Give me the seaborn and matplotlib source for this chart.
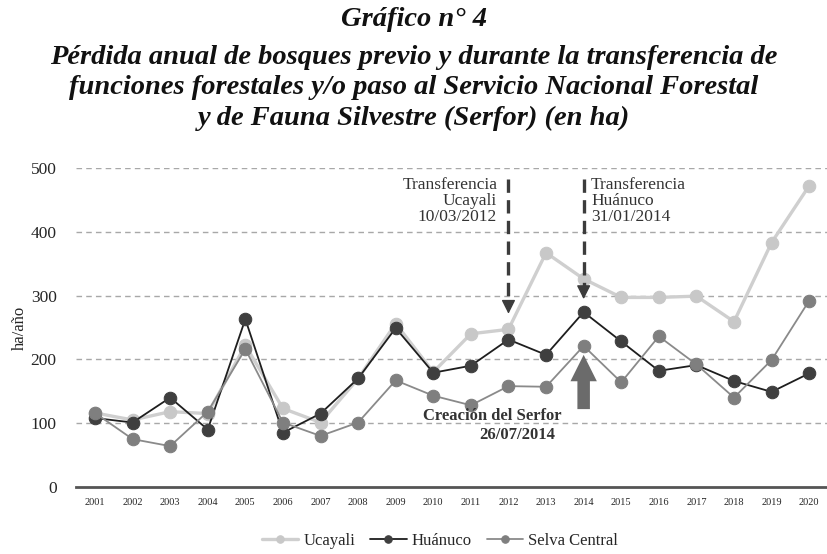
import matplotlib
matplotlib.use("Agg")
import matplotlib.pyplot as plt
import seaborn as sns
import pandas as pd

# datos (ha/año)
anios = [str(a) for a in range(2001, 2021)]
ucayali = [116, 105, 118, 115, 222, 123, 101, 170, 256, 180,
           240, 247, 367, 326, 297, 297, 299, 259, 383, 472]
huanuco = [108, 101, 140, 90, 263, 85, 115, 170, 249, 179,
           190, 231, 207, 274, 228, 182, 191, 166, 149, 178]
selva_central = [116, 75, 64, 118, 216, 101, 80, 101, 167, 143,
                 128, 158, 157, 221, 164, 236, 192, 140, 199, 292]

series = ["Ucayali", "Huánuco", "Selva Central"]
lineas = ["#cfcfcf", "#1e1e1e", "#8a8a8a"]
marcas = ["#c8c8c8", "#3f3f3f", "#7f7f7f"]
grosor = [2.4, 1.3, 1.3]

titulo = ["Gráfico n° 4",
          "Pérdida anual de bosques previo y durante la transferencia de",
          "funciones forestales y/o paso al Servicio Nacional Forestal",
          "y de Fauna Silvestre (Serfor) (en ha)"]

sns.set_theme(style="white")
plt.rcParams["font.family"] = ["Liberation Serif", "DejaVu Serif"]

df = pd.DataFrame({"anio": anios, "Ucayali": ucayali, "Huánuco": huanuco,
                   "Selva Central": selva_central})
pos = list(range(len(anios)))

fig = plt.figure(figsize=(8.28, 5.54), dpi=100)
ax = fig.add_axes([0.092, 0.121, 0.908, 0.576])

for nombre, lc, mc, lw in zip(series, lineas, marcas, grosor):
    sns.lineplot(x=pos, y=df[nombre], ax=ax, color=lc, linewidth=lw,
                 marker="o", markersize=9, markerfacecolor=mc,
                 markeredgecolor=mc, label=nombre, legend=False)

ax.set_xlim(-0.5, len(anios) - 0.5)
ax.set_ylim(0, 500)
ax.set_xticks(pos)
ax.set_xticklabels(anios, fontsize=7.5)
ax.set_yticks([0, 100, 200, 300, 400, 500])
ax.tick_params(axis="y", labelsize=12.5, length=0, pad=14)
ax.tick_params(axis="x", length=0, pad=8)
ax.set_xlabel("")
ax.set_ylabel("ha/año", fontsize=12, labelpad=2)
for y in [100, 200, 300, 400, 500]:
    ax.axhline(y, color="#a8a8a8", linestyle=(0, (4, 3)), linewidth=1, zorder=0)
for s in ["top", "right", "left"]:
    ax.spines[s].set_visible(False)
ax.spines["bottom"].set_color("#555555")
ax.spines["bottom"].set_linewidth(2)

# flechas de transferencia
i12 = anios.index("2012")
i14 = anios.index("2014")
ax.plot([i12, i12], [482, 285], color="#3c3c3c", linewidth=2.4, linestyle=(0, (4, 2.2)))
ax.annotate("", xy=(i12, 267), xytext=(i12, 287),
            arrowprops=dict(arrowstyle="-|>,head_width=0.35,head_length=0.7",
                            color="#3c3c3c", linewidth=1))
ax.plot([i14, i14], [482, 310], color="#3c3c3c", linewidth=2.4, linestyle=(0, (4, 2.2)))
ax.annotate("", xy=(i14, 290), xytext=(i14, 310),
            arrowprops=dict(arrowstyle="-|>,head_width=0.35,head_length=0.7",
                            color="#3c3c3c", linewidth=1))
ax.text(i12 - 0.3, 486, "Transferencia\nUcayali\n10/03/2012", ha="right", va="top",
        fontsize=12.5, color="#333333", linespacing=1.0)
ax.text(i14 + 0.2, 486, "Transferencia\nHuánuco\n31/01/2014", ha="left", va="top",
        fontsize=12.5, color="#333333", linespacing=1.0)

# creación del Serfor
ax.annotate("", xy=(i14, 207), xytext=(i14, 122),
            arrowprops=dict(width=9, headwidth=19, headlength=19, shrink=0,
                            color="#6b6b6b", linewidth=0))
ax.text(i14 - 0.6, 111, "Creación del Serfor", ha="right", va="center",
        fontsize=12, fontweight="bold", color="#333333")
ax.text(i14 - 0.75, 81, "26/07/2014", ha="right", va="center",
        fontsize=12, fontweight="bold", color="#333333")

for k, linea in enumerate(titulo):
    fig.text(0.5, 1 - [20, 58, 88, 118][k] / 554, linea, ha="center", va="center",
             fontsize=20.5, fontweight="bold", fontstyle="italic", color="#111111")

h, l = ax.get_legend_handles_labels()
fig.legend(h, l, loc="center", bbox_to_anchor=(440 / 828, 1 - 541 / 554), ncol=3,
           frameon=False, fontsize=12, handlelength=2.2, columnspacing=0.9,
           handletextpad=0.3, markerscale=0.6)

fig.savefig("out.png", dpi=100)
